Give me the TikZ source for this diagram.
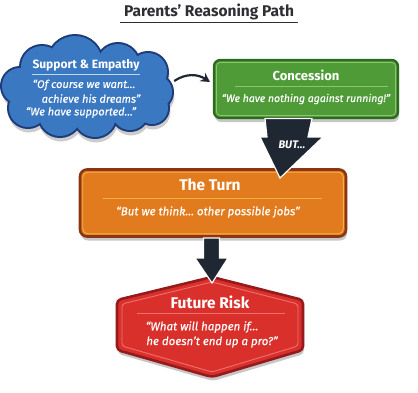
\documentclass[tikz,border=0pt]{standalone}
\usepackage{fontspec}
\setmainfont{Fira Sans}
\newfontfamily\quotefam[FakeBold=0.4]{Fira Sans}
\newcommand\quotefont{\quotefam\itshape}
\usetikzlibrary{shadows,calc,arrows.meta}
\definecolor{cloudfill}{HTML}{3B78C2}
\definecolor{cloudline}{HTML}{1E3C78}
\definecolor{greenfill}{HTML}{4E9B37}
\definecolor{greenline}{HTML}{2C6A20}
\definecolor{greenlite}{HTML}{8CC56A}
\definecolor{orangefill}{HTML}{E27B1E}
\definecolor{orangeline}{HTML}{8A3516}
\definecolor{orangelite}{HTML}{F6B040}
\definecolor{redfill}{HTML}{D9302B}
\definecolor{redline}{HTML}{961A1C}
\definecolor{redlite}{HTML}{F07070}
\definecolor{arrowdark}{HTML}{1F2733}
\definecolor{titlegray}{HTML}{2E2E33}
\def\cloudbumps{75/63/27, 42/67/21, 118/65/21, 148/72/19, 155/92/17, 20/86/18, 28/108/19, 60/115/21, 95/116/21, 130/112/18, 152/108/16}
\begin{document}
\begin{tikzpicture}[x=1pt,y=-1pt,
  shad/.style={drop shadow={shadow xshift=1pt,shadow yshift=-4pt,opacity=0.22,fill=black}},
  boxtitle/.style={text=white,font=\bfseries\fontsize{13}{15}\selectfont,inner sep=0pt},
  bigtitle/.style={text=white,font=\bfseries\fontsize{15.5}{18}\selectfont,inner sep=0pt},
  quote/.style={text=white,font=\quotefont\fontsize{10.5}{12}\selectfont,inner sep=0pt},
  fatarrow/.style={fill=arrowdark,draw=white,line width=1.2pt,line join=miter},
  rule/.style={line width=0.6pt}
]
\useasboundingbox (0,0) rectangle (418,392);

% title
\node[text=titlegray,font=\bfseries\fontsize{15.5}{18}\selectfont,inner sep=0pt] (title) at (209,12) {Parents’ Reasoning Path};
\draw[titlegray,line width=1pt] (120,22) -- (298,22);

% cloud (union of bumps)
\begin{scope}[transparency group,opacity=0.2]
  \foreach \cx/\cy/\r in \cloudbumps { \fill[black] (\cx+1,\cy+4) circle[radius=\r+1.5]; }
\end{scope}
\foreach \cx/\cy/\r in \cloudbumps { \draw[cloudline,line width=4pt] (\cx,\cy) circle[radius=\r]; }
\foreach \cx/\cy/\r in \cloudbumps { \fill[cloudfill] (\cx,\cy) circle[radius=\r]; }
\fill[cloudfill] (87,89) ellipse[x radius=72, y radius=34];
\node[minimum width=170pt,minimum height=99pt,inner sep=0pt] (cloud) at (87,87) {};
\node[text=white,font=\bfseries\fontsize{12}{14}\selectfont,inner sep=0pt] (st) at (86,65) {Support \& Empathy};
\draw[rule,white!70!cloudfill] (32,74.5) -- (140,74.5);
\node[quote,font=\quotefont\fontsize{11}{13}\selectfont] (q1) at (84,85) {“Of course we want…};
\node[quote,font=\quotefont\fontsize{11}{13}\selectfont] (q2) at (91,98.5) {achieve his dreams”};
\node[quote,font=\quotefont\fontsize{11}{13}\selectfont] (q3) at (81,112.5) {“We have supported…”};

% concession
\node[fill=greenfill,draw=greenline,line width=2.2pt,rounded corners=6pt,minimum width=184pt,minimum height=58pt,shad] (conc) at (306,89) {};
\draw[greenlite,line width=0.8pt,rounded corners=4pt] ($(conc.north west)+(3.5,3.5)$) rectangle ($(conc.south east)+(-3.5,-3.5)$);
\node[boxtitle] (ct) at (306,75) {Concession};
\draw[rule,greenlite] (235,86) -- (388,86);
\node[quote] (cq) at (306,99) {“We have nothing against running!”};

% curved connector cloud -> concession
\draw[arrowdark,line width=2.2pt,-{Stealth[length=9pt,width=10pt]}] ($(cloud.east)+(2,-6)$) .. controls (186,73) and (198,74) .. ($(conc.west)+(-3,-7)$);

% the turn
\node[fill=orangefill,draw=orangeline,line width=2.6pt,rounded corners=7pt,minimum width=266pt,minimum height=67pt,shad] (turn) at (213,203) {};
\draw[orangelite,line width=0.9pt,rounded corners=5pt] ($(turn.north west)+(4,4)$) rectangle ($(turn.south east)+(-4,-4)$);
\node[bigtitle] (tt) at (210,185) {The Turn};
\draw[rule,orangelite] (103,198) -- (322,198);
\node[quote,font=\quotefont\fontsize{11.5}{13}\selectfont] (tq) at (208,212) {“But we think… other possible jobs”};

% BUT arrow concession -> turn
\coordinate (butt) at (280,178);
\draw[fatarrow] (265,118.5) -- (312,118.5) -- (308,137) -- (323,137) -- (butt) -- (260,137) -- (267,137) -- cycle;
\node[text=white,font=\bfseries\itshape\fontsize{11}{13}\selectfont,inner sep=0pt] (but) at (292,145) {BUT…};

% future risk hexagon
\coordinate (risktop) at (212,277);
\draw[fill=redfill,draw=redline,line width=2.6pt,rounded corners=4pt,shad]
  (risktop) -- (303,300) -- (303,350) -- (212,377) -- (117,350) -- (117,300) -- cycle;
\draw[redlite,line width=0.9pt,rounded corners=3pt]
  (212,282) -- (298,304) -- (298,346) -- (212,372) -- (122,346) -- (122,304) -- cycle;
\node[bigtitle] (rt) at (210,302) {Future Risk};
\draw[rule,redlite] (137,313) -- (285,313);
\node[quote,font=\quotefont\fontsize{11.5}{13}\selectfont] (rq1) at (202,327) {“What will happen if…};
\node[quote,font=\quotefont\fontsize{11.5}{13}\selectfont] (rq2) at (212,342) {he doesn’t end up a pro?”};

% arrow turn -> risk
\coordinate (rtip) at (212,283);
\draw[fatarrow] (203.5,238) -- (219.5,238) -- (219.5,258) -- (228,258) -- (rtip) -- (195,258) -- (203.5,258) -- cycle;
\end{tikzpicture}
\end{document}
